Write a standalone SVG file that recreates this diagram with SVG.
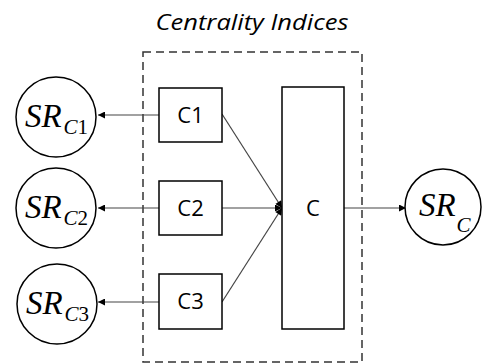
<svg xmlns="http://www.w3.org/2000/svg" width="482" height="364" viewBox="0 0 482 364">
<style>
.box{fill:#fff;stroke:#000;stroke-width:1.5}
.circ{fill:#fff;stroke:#000;stroke-width:1.5}
.lbl{font-family:"Open Sans","Liberation Sans",sans-serif;font-size:22px;fill:#000;text-anchor:middle}
.sr{font-family:"Liberation Serif","Times New Roman",serif;font-style:italic;fill:#000}
.con{stroke:#444;stroke-width:1.2;fill:none;marker-end:url(#ah)}
</style>
<defs>
<marker id="ah" viewBox="0 0 10 10" refX="10" refY="5" markerWidth="9" markerHeight="7" markerUnits="userSpaceOnUse" orient="auto">
<path d="M0,0 L10,5 L0,10 z" fill="#000"/>
</marker>
</defs>
<rect fill="#fff" width="482" height="364"/>
<text x="252" y="30" font-family="'Open Sans','Liberation Sans',sans-serif" font-style="italic" font-size="22" textLength="193" lengthAdjust="spacingAndGlyphs" text-anchor="middle" fill="#000">Centrality Indices</text>
<rect id="frame" x="143" y="52" width="219" height="310" fill="none" stroke="#333" stroke-width="1.5" stroke-dasharray="8,5"/>
<g id="connectors">
<line class="con" x1="159" y1="115" x2="98" y2="115"/>
<line class="con" x1="159" y1="208" x2="98" y2="208"/>
<line class="con" x1="159" y1="302" x2="98" y2="302"/>
<line class="con" x1="222" y1="114" x2="282" y2="208"/>
<line class="con" x1="222" y1="208" x2="282" y2="208"/>
<line class="con" x1="222" y1="302" x2="282" y2="208"/>
<line class="con" x1="344" y1="208" x2="406" y2="208"/>
</g>
<g id="C1"><rect class="box" x="159" y="88" width="63" height="54"/><text class="lbl" x="190.5" y="123">C1</text></g>
<g id="C2"><rect class="box" x="159" y="181" width="63" height="54"/><text class="lbl" x="190.5" y="216">C2</text></g>
<g id="C3"><rect class="box" x="159" y="274" width="63" height="55"/><text class="lbl" x="190.5" y="309">C3</text></g>
<g id="C"><rect class="box" x="282" y="87" width="62" height="242"/><text class="lbl" x="313" y="216">C</text></g>
<g id="SRC1"><circle class="circ" cx="56" cy="117" r="40"/><text class="sr" x="25" y="127" font-size="33">SR</text><text class="sr" x="63.5" y="134" font-size="21">C<tspan font-style="normal">1</tspan></text></g>
<g id="SRC2"><circle class="circ" cx="56" cy="208" r="40"/><text class="sr" x="25" y="218" font-size="33">SR</text><text class="sr" x="63.5" y="225" font-size="21">C<tspan font-style="normal">2</tspan></text></g>
<g id="SRC3"><circle class="circ" cx="57" cy="304" r="40"/><text class="sr" x="26" y="314" font-size="33">SR</text><text class="sr" x="64.5" y="321" font-size="21">C<tspan font-style="normal">3</tspan></text></g>
<g id="SRC"><circle class="circ" cx="443" cy="207" r="38"/><text class="sr" x="419" y="216" font-size="33">SR</text><text class="sr" x="456.5" y="232" font-size="21">C</text></g>
</svg>
